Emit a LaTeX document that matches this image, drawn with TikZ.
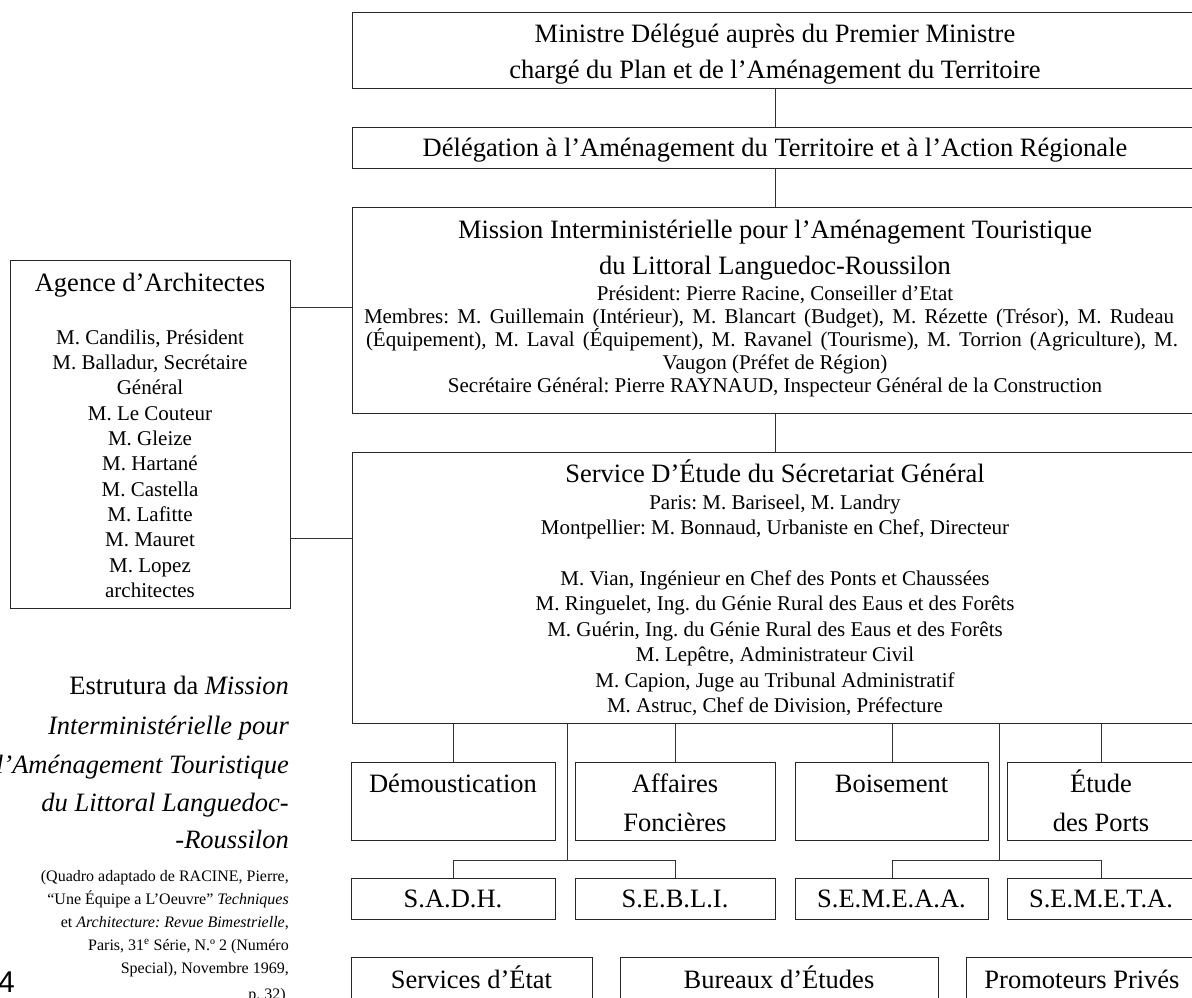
\documentclass[tikz,border=0pt]{standalone}
\usepackage{fontspec}
\setmainfont{Liberation Serif}
\newfontfamily\pagefont{Liberation Sans}
\frenchspacing
\begin{document}
\begin{tikzpicture}[x=1pt,y=-1pt,
  box/.style={draw=black!85, line width=1pt, inner sep=0pt, anchor=north west},
  big/.style={font=\fontsize{26.5}{32}\selectfont, inner sep=0pt, anchor=mid, yshift=-4pt},
  sm/.style={font=\fontsize{21}{25}\selectfont, inner sep=0pt, anchor=mid, yshift=-4pt},
  captxt/.style={font=\fontsize{26.5}{32}\selectfont\itshape, inner sep=0pt, anchor=mid east, yshift=-4pt},
  capsm/.style={font=\fontsize{16}{20}\selectfont, inner sep=0pt, anchor=mid east, yshift=-4pt},
  conn/.style={draw=black!80, line width=0.9pt}]
\useasboundingbox (0,0) rectangle (1192,997);

% main boxes
\node[box, minimum width=846pt, minimum height=76pt] (minis) at (352,12) {};
\node[box, minimum width=846pt, minimum height=41pt] (deleg) at (352,127) {};
\node[box, minimum width=846pt, minimum height=206pt] (miss) at (352,207) {};
\node[box, minimum width=846pt, minimum height=271pt] (serv) at (352,452) {};
\node[box, minimum width=280pt, minimum height=348pt] (agence) at (10,260) {};

% row 1
\node[box, minimum width=204pt, minimum height=78pt] (d1) at (351,762) {};
\node[box, minimum width=200pt, minimum height=78pt] (d2) at (575,762) {};
\node[box, minimum width=193pt, minimum height=78pt] (d3) at (795,762) {};
\node[box, minimum width=188pt, minimum height=78pt] (d4) at (1007,762) {};
% row 2
\node[box, minimum width=204pt, minimum height=41pt] (s1) at (351,878) {};
\node[box, minimum width=200pt, minimum height=41pt] (s2) at (575,878) {};
\node[box, minimum width=193pt, minimum height=41pt] (s3) at (795,878) {};
\node[box, minimum width=188pt, minimum height=41pt] (s4) at (1007,878) {};
% row 3
\node[box, minimum width=241pt, minimum height=60pt] (r1) at (351,957) {};
\node[box, minimum width=318pt, minimum height=60pt] (r2) at (620,957) {};
\node[box, minimum width=232pt, minimum height=60pt] (r3) at (966,957) {};

% texts of main boxes
\node[big] (minis1) at (775,36) {Ministre Délégué auprès du Premier Ministre};
\node[big] (minis2) at (775,72) {chargé du Plan et de l’Aménagement du Territoire};
\node[big] (delegt) at (775,150) {Délégation à l’Aménagement du Territoire et à l’Action Régionale};

\node[big] (miss1) at (775,232) {Mission Interministérielle pour l’Aménagement Touristique};
\node[big] (miss2) at (775,268) {du Littoral Languedoc-Roussilon};
\node[sm] (missl1) at (775,294) {Président: Pierre Racine, Conseiller d’Etat};
\node[sm] (missl2) at (769,317) {\makebox[810pt][s]{Membres: M. Guillemain (Intérieur), M. Blancart (Budget), M. Rézette (Trésor), M. Rudeau}};
\node[sm] (missl3) at (772,340) {\makebox[812pt][s]{(Équipement), M. Laval (Équipement), M. Ravanel (Tourisme), M. Torrion (Agriculture), M.}};
\node[sm] (missl4) at (775,363) {Vaugon (Préfet de Région)};
\node[sm] (missl5) at (775,386) {Secrétaire Général: Pierre RAYNAUD, Inspecteur Général de la Construction};

\node[big] (serv1) at (775,476) {Service D’Étude du Sécretariat Général};
\node[sm] (servp) at (775,503) {Paris: M. Bariseel, M. Landry};
\node[sm] (servm) at (775,528) {Montpellier: M. Bonnaud, Urbaniste en Chef, Directeur};
\foreach \t [count=\i] in {{M. Vian, Ingénieur en Chef des Ponts et Chaussées},
  {M. Ringuelet, Ing. du Génie Rural des Eaus et des Forêts},
  {M. Guérin, Ing. du Génie Rural des Eaus et des Forêts},
  {M. Lepêtre, Administrateur Civil},
  {M. Capion, Juge au Tribunal Administratif},
  {M. Astruc, Chef de Division, Préfecture}}
  \node[sm] (servl\i) at (775,{579+25.5*(\i-1)}) {\t};

% agence text
\node[big] (agt) at (150,285) {Agence d’Architectes};
\foreach \t [count=\i] in {{M. Candilis, Président},{M. Balladur, Secrétaire},{Général},
  {M. Le Couteur},{M. Gleize},{M. Hartané},{M. Castella},{M. Lafitte},{M. Mauret},
  {M. Lopez},{architectes}}
  \node[sm] (agl\i) at (150,{338+25.3*(\i-1)}) {\t};

% row texts
\node[big] (d1t) at (453,786) {Démoustication};
\node[big] (d2t) at (675,786) {Affaires};
\node[big] (d2u) at (675,825) {Foncières};
\node[big] (d3t) at (891.5,786) {Boisement};
\node[big] (d4t) at (1101,786) {Étude};
\node[big] (d4u) at (1101,825) {des Ports};
\node[big] (s1t) at (453,901) {S.A.D.H.};
\node[big] (s2t) at (675,901) {S.E.B.L.I.};
\node[big] (s3t) at (891.5,901) {S.E.M.E.A.A.};
\node[big] (s4t) at (1101,901) {S.E.M.E.T.A.};
\node[big] (r1t) at (471.5,982) {Services d’État};
\node[big] (r2t) at (779,982) {Bureaux d’Études};
\node[big] (r3t) at (1082,982) {Promoteurs Privés};

% caption
\node[captxt] (c1) at (289,688) {{\upshape Estrutura da} Mission};
\node[captxt] (c2) at (289,728) {Interministérielle pour};
\node[captxt] (c3) at (289,767) {l’Aménagement Touristique};
\node[captxt] (c4) at (289,805) {du Littoral Languedoc-};
\node[captxt] (c5) at (289,842) {-Roussilon};
\node[capsm] (q1) at (289,875) {(Quadro adaptado de RACINE, Pierre,};
\node[capsm] (q2) at (289,898) {“Une Équipe a L’Oeuvre” \textit{Techniques}};
\node[capsm] (q3) at (289,921) {et \textit{Architecture: Revue Bimestrielle},};
\node[capsm] (q4) at (289,944) {Paris, 31\textsuperscript{e} Série, N.º 2 (Numéro};
\node[capsm] (q5) at (289,967) {Special), Novembre 1969,};
\node[capsm] (q6) at (286,993) {p. 32)};
\node[font=\pagefont\fontsize{30}{34}\selectfont, inner sep=0pt, anchor=mid west, yshift=-5pt] (pg) at (-2,985) {4};

% connectors
\draw[conn] (minis.south) -- (deleg.north);
\draw[conn] (deleg.south) -- (miss.north);
\draw[conn] (miss.south) -- (serv.north);
\coordinate (ay1) at (0,307);
\coordinate (ay2) at (0,538);
\draw[conn] (agence.east |- ay1) -- (miss.west |- ay1);
\draw[conn] (agence.east |- ay2) -- (serv.west |- ay2);
\foreach \b in {d1,d2,d3,d4}
  \draw[conn] (serv.south -| \b.north) -- (\b.north);
\coordinate (j1) at (567,860);
\coordinate (j2) at (999,860);
\draw[conn] (serv.south -| j1) -- (j1);
\draw[conn] (serv.south -| j2) -- (j2);
\draw[conn] (s1.north) |- (j1) -| (s2.north);
\draw[conn] (s3.north) |- (j2) -| (s4.north);
\end{tikzpicture}
\end{document}
